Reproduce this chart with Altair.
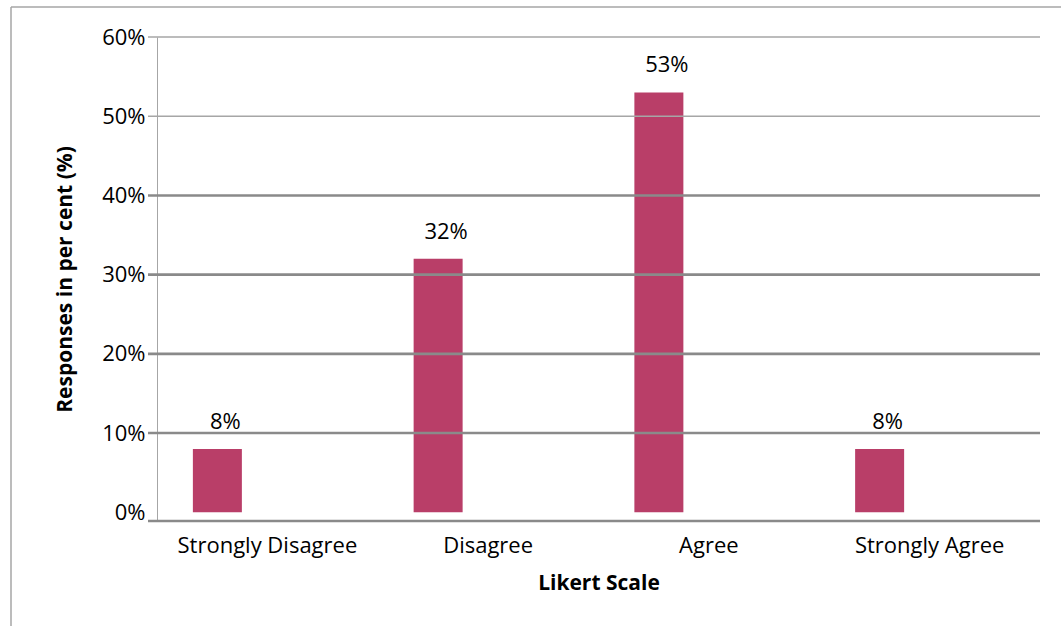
import altair as alt
import pandas as pd

# Survey results on a four-point Likert scale
categories = ["Strongly Disagree", "Disagree", "Agree", "Strongly Agree"]
responses = [8, 32, 53, 8]

# Percentage axis ticks and the gridlines drawn behind / in front of the bars
tick_values = [0, 10, 20, 30, 40, 50, 60]
back_grid = [50, 60]
front_grid = [10, 20, 30, 40]

W, H = 883, 484
FONT = "Open Sans"
BAR_COLOR = "#B93E68"
LIGHT_GREY = "#a6a6a6"
DARK_GREY = "#8a8a8a"

df = pd.DataFrame({"scale": categories, "pct": responses})
df["label"] = df["pct"].astype(str) + "%"

y_scale = alt.Scale(domain=[-1.1, 60], nice=False, zero=False)
x_scale = alt.Scale(domain=categories, paddingInner=0, paddingOuter=0)

x_axis = alt.Axis(
    title="Likert Scale",
    titleFont=FONT,
    titleFontSize=21,
    titleFontWeight="bold",
    titleColor="black",
    titlePadding=16,
    labelFont=FONT,
    labelFontSize=22,
    labelColor="black",
    labelAngle=0,
    labelPadding=14,
    domain=False,
    ticks=False,
    grid=False,
)

y_axis = alt.Axis(
    values=tick_values,
    labelExpr="datum.value + '%'",
    title="Responses in per cent (%)",
    titleFont=FONT,
    titleFontSize=21,
    titleFontWeight="bold",
    titleColor="black",
    titlePadding=26,
    labelFont=FONT,
    labelFontSize=22,
    labelColor="black",
    labelPadding=12,
    grid=False,
    ticks=False,
    domainColor=LIGHT_GREY,
    domainWidth=1,
)

x_enc = alt.X("scale:N", sort=categories, scale=x_scale, axis=x_axis)
y_enc = alt.Y("pct:Q", scale=y_scale, axis=y_axis)

# Outer frame of the figure
frame_v = alt.Chart(pd.DataFrame({"k": [0]})).mark_rule(
    color=LIGHT_GREY, strokeWidth=1.5
).encode(x=alt.value(-146), y=alt.value(-30), y2=alt.value(H + 120))
frame_h = alt.Chart(pd.DataFrame({"k": [0]})).mark_rule(
    color=LIGHT_GREY, strokeWidth=1.5
).encode(y=alt.value(-30), x=alt.value(-146), x2=alt.value(W + 40))

grid_back = alt.Chart(pd.DataFrame({"pct": back_grid})).mark_rule(
    color=LIGHT_GREY, strokeWidth=1.6
).encode(y=y_enc, x=alt.value(-9), x2=alt.value(W))

bars = alt.Chart(df).mark_bar(width=49, xOffset=-50, color=BAR_COLOR).encode(
    x=x_enc, y=y_enc
)

grid_front = alt.Chart(pd.DataFrame({"pct": front_grid})).mark_rule(
    color=DARK_GREY, strokeWidth=2.6
).encode(y=y_enc, x=alt.value(-9), x2=alt.value(W))

# Category axis baseline
base_line = alt.Chart(pd.DataFrame({"k": [0]})).mark_rule(
    color=DARK_GREY, strokeWidth=2.6
).encode(y=alt.value(H), x=alt.value(-9), x2=alt.value(W))

labels = alt.Chart(df).mark_text(
    xOffset=-42, dy=-20, baseline="alphabetic", font=FONT, fontSize=22, color="black"
).encode(x=x_enc, y=y_enc, text="label:N")

chart = (
    alt.layer(bars, frame_v, frame_h, grid_back, grid_front, base_line, labels)
    .properties(
        width=W,
        height=H,
        padding={"left": 157, "top": 37, "right": 21, "bottom": 105},
        autosize=alt.AutoSizeParams(type="none"),
        background="white",
    )
    .configure_view(stroke=None)
)

chart.save("out.html", embed_options={"renderer": "svg", "actions": False})
